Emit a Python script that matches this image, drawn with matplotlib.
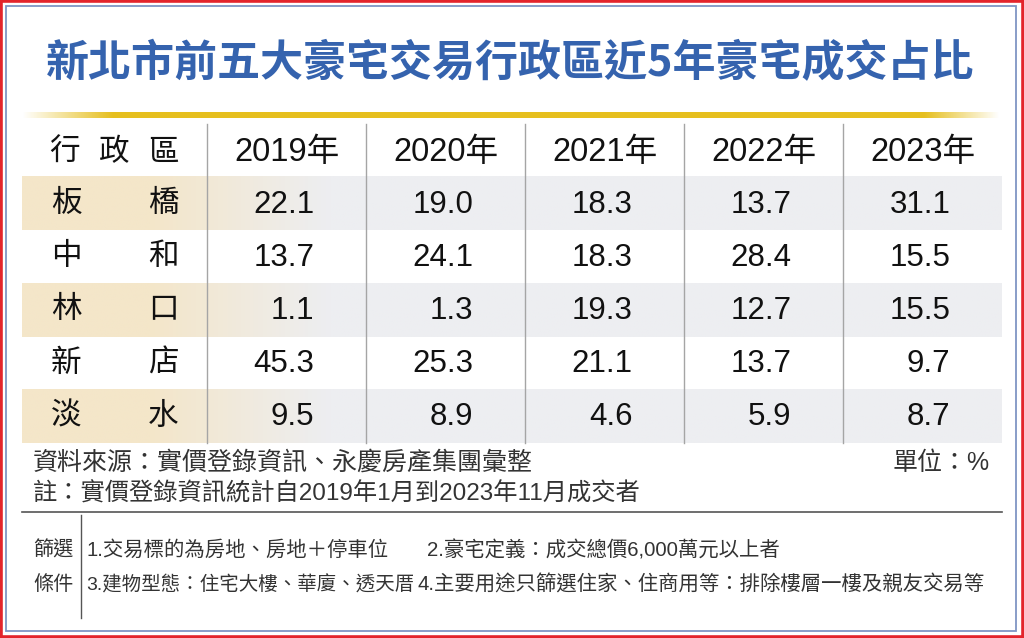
import numpy as np
import matplotlib
matplotlib.use("Agg")
import matplotlib.pyplot as plt
from matplotlib.patches import Rectangle
from matplotlib.colors import to_rgb

# ---------------- data ----------------
title = "新北市前五大豪宅交易行政區近5年豪宅成交占比"
header_label = ["行", "政", "區"]
districts = ["板橋", "中和", "林口", "新店", "淡水"]
years = ["2019年", "2020年", "2021年", "2022年", "2023年"]
v2019 = [22.1, 13.7, 1.1, 45.3, 9.5]
v2020 = [19.0, 24.1, 1.3, 25.3, 8.9]
v2021 = [18.3, 18.3, 19.3, 21.1, 4.6]
v2022 = [13.7, 28.4, 12.7, 13.7, 5.9]
v2023 = [31.1, 15.5, 15.5, 9.7, 8.7]
source = "資料來源：實價登錄資訊、永慶房產集團彙整"
unit = "單位：%"
note = "註：實價登錄資訊統計自2019年1月到2023年11月成交者"
filter_label = ["篩選", "條件"]
filter_items = ["1.交易標的為房地、房地＋停車位",
                "2.豪宅定義：成交總價6,000萬元以上者",
                "3.建物型態：住宅大樓、華廈、透天厝",
                "4.主要用途只篩選住家、住商用等：排除樓層一樓及親友交易等"]

columns = [v2019, v2020, v2021, v2022, v2023]

CJK = ["Noto Sans CJK TC", "DejaVu Sans"]
MIX = ["Liberation Sans", "Noto Sans CJK TC", "DejaVu Sans"]
plt.rcParams["font.family"] = CJK

fig = plt.figure(figsize=(10.24, 6.38), dpi=100)
ax = fig.add_axes([0, 0, 1, 1])
ax.set_xlim(0, 1024)
ax.set_ylim(638, 0)
ax.axis("off")

# borders
ax.add_patch(Rectangle((1.2, 1.2), 1021.6, 635.6, lw=2.6, ec="#E3242B", fc="none", zorder=5))
ax.add_patch(Rectangle((6, 6), 1010, 625, lw=1.3, ec="#7F95C4", fc="none", zorder=5))

# title
ax.text(510, 63, title, ha="center", va="center", fontsize=31, fontweight="bold",
        color="#3563AE", family=CJK)

# gold gradient rule
N = 500
xs = np.linspace(22, 1002, N)
alpha = np.clip(np.minimum((xs - 22) / 90.0, (1000 - xs) / 75.0), 0, 1)
gold = np.zeros((1, N, 4))
gold[..., :3] = to_rgb("#E6BF1E")
gold[0, :, 3] = alpha
ax.imshow(gold, extent=(22, 1002, 118, 112), aspect="auto", interpolation="bilinear", zorder=2)

# table geometry
left, right = 22, 1002
seps = [207, 366, 525, 684, 843]
edges = seps + [right]
centers = [(edges[i] + edges[i + 1]) / 2 for i in range(5)]
header_y = 152
row_top = 177
row_h = 53.2

# banded rows (tan -> gray gradient)
tan = np.array(to_rgb("#F4E6C9"))
gray = np.array(to_rgb("#EDEEF1"))
t = np.clip((xs - 150) / 180.0, 0, 1)[:, None]
band = (tan * (1 - t) + gray * t)[None, :, :]
for i in range(len(districts)):
    if i % 2 == 0:
        y0 = row_top + i * row_h
        ax.imshow(band, extent=(left, right, y0 + row_h, y0), aspect="auto",
                  interpolation="bilinear", zorder=1)

# vertical separators
for x in seps:
    ax.plot([x, x], [124, row_top + 5 * row_h], color="#A5A5A5", lw=1.0, zorder=3)

# header
for ch, x in zip(header_label, [64, 114, 163]):
    ax.text(x, header_y, ch, ha="center", va="center", fontsize=22, color="#111111", family=CJK)
for yr, cx in zip(years, centers):
    ax.text(cx, header_y, yr, ha="center", va="center", fontsize=23.5, color="#111111", family=MIX)

# rows
for i, d in enumerate(districts):
    cy = row_top + row_h * (i + 0.5)
    ax.text(66, cy, d[0], ha="center", va="center", fontsize=22, color="#111111", family=CJK)
    ax.text(163, cy, d[1], ha="center", va="center", fontsize=22, color="#111111", family=CJK)
    for col, cx in zip(columns, centers):
        ax.text(cx + 28, cy + 1, f"{col[i]:.1f}", ha="right", va="center", fontsize=22.5,
                color="#111111", family=MIX)

# footer
ax.text(33, 463, source, ha="left", va="center", fontsize=18, color="#333333", family=MIX)
ax.text(990, 463, unit, ha="right", va="center", fontsize=18, color="#333333", family=MIX)
ax.text(33, 494, note, ha="left", va="center", fontsize=17.5, color="#333333", family=MIX)
ax.plot([left, right], [512, 512], color="#555555", lw=1.2, zorder=3)
ax.plot([81, 81], [515, 618], color="#555555", lw=1.0, zorder=3)

ax.text(33, 550, filter_label[0], ha="left", va="center", fontsize=14.5, color="#333333", family=CJK)
ax.text(33, 585, filter_label[1], ha="left", va="center", fontsize=14.5, color="#333333", family=CJK)
item_pos = [(86, 550), (427, 550), (86, 585), (418, 585)]
item_size = [14.7, 14.7, 14.0, 14.7]
for txt, (x, y), fs in zip(filter_items, item_pos, item_size):
    ax.text(x, y, txt, ha="left", va="center", fontsize=fs, color="#333333", family=MIX)

fig.savefig("out.png", dpi=100)
